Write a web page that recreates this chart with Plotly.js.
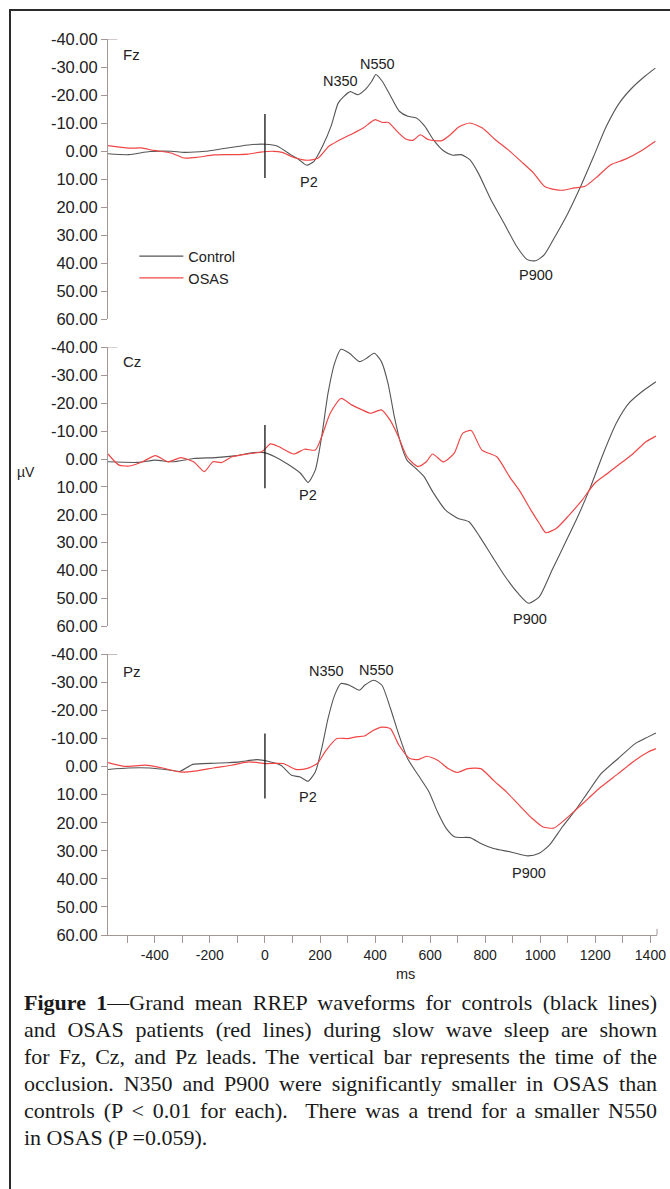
<!DOCTYPE html>
<html><head><meta charset="utf-8">
<script src="https://cdn.plot.ly/plotly-3.0.1.min.js"></script>
<style>
html,body{margin:0;padding:0;background:#fff;}
#wrap{position:relative;width:670px;height:1189px;overflow:hidden;background:#fff;}
#chart{position:absolute;left:0;top:0;width:670px;height:1189px;}
#frame{position:absolute;left:9px;top:9px;width:700px;height:1220px;border:2px solid #2b2b2b;box-sizing:border-box;pointer-events:none;}
#caption{position:absolute;left:24px;top:989px;width:633px;font-family:"Liberation Serif","Times New Roman",serif;font-size:22px;line-height:27px;color:#1a1a1a;}
#caption div{text-align:justify;text-align-last:justify;white-space:normal;}
#caption div.last{text-align:left;text-align-last:left;}
</style></head>
<body><div id="wrap"><div id="chart"></div><div id="frame"></div>
<div id="caption">
<div><b>Figure 1</b>—Grand mean RREP waveforms for controls (black lines)</div>
<div>and OSAS patients (red lines) during slow wave sleep are shown</div>
<div>for Fz, Cz, and Pz leads. The vertical bar represents the time of the</div>
<div>occlusion. N350 and P900 were significantly smaller in OSAS than</div>
<div>controls (P &lt; 0.01 for each).&nbsp; There was a trend for a smaller N550</div>
<div class="last">in OSAS (P =0.059).</div>
</div></div>
<script>
// ---- data (ms, µV) ----
var fzControlT = [-570,-495,-418,-340,-294,-217,-155,-93,-46,0,46,93,124,152,178,209,240,266,287,310,338,364,388,403,426,457,488,519,550,581,612,651,682,713,744,775,821,868,914,953,984,1015,1054,1101,1147,1194,1240,1287,1333,1380,1418];
var fzControl  = [1.0,1.3,0.2,0.1,0.5,0.1,-0.8,-1.7,-2.3,-2.4,-1.7,1.3,3.1,5.1,3.7,-1.7,-8.8,-17.1,-19.5,-21.2,-20.1,-21.9,-24.9,-27.3,-24.9,-19.5,-14.2,-12.4,-11.8,-8.8,-4.0,0.1,1.5,1.3,3.1,7.9,17.4,25.7,34.0,38.8,39.2,37.0,30.5,22.1,12.6,1.9,-8.8,-17.1,-22.5,-26.7,-29.6];
var fzOsasT = [-570,-495,-449,-403,-341,-294,-248,-186,-124,-62,-16,31,62,108,155,194,232,263,310,357,400,426,449,480,511,538,564,595,642,673,704,744,790,837,883,930,976,1015,1054,1085,1124,1163,1209,1256,1310,1364,1418];
var fzOsas  = [-1.9,-1.0,-1.1,-0.2,0.7,2.5,2.3,1.4,1.3,1.1,0.4,0.1,0.5,2.4,3.3,2.5,-1.7,-3.5,-5.8,-8.2,-11.2,-10.2,-10.2,-7.0,-4.3,-3.8,-5.8,-4.0,-3.7,-5.8,-8.6,-10.0,-8.2,-4.0,-0.5,3.7,7.9,12.6,13.8,14.0,13.2,12.6,9.0,4.9,2.9,0.1,-3.5];

var czControlT = [-570,-460,-398,-336,-259,-181,-104,-42,-3,36,82,129,157,183,206,229,253,276,307,343,369,397,423,447,470,493,516,547,578,609,656,702,741,780,826,873,919,958,997,1043,1090,1136,1183,1229,1276,1322,1369,1420];
var czControl  = [1.0,1.2,0.4,1.0,-0.2,-0.5,-1.2,-2.3,-2.3,-0.8,1.8,5.1,8.4,3.9,-8.0,-23.5,-34.3,-39.3,-37.9,-34.9,-36.1,-37.9,-34.9,-27.1,-15.2,-5.6,0.4,3.3,6.3,11.7,18.3,21.3,22.5,27.8,35.0,42.2,48.1,51.7,49.3,39.8,30.2,20.7,9.9,-2.0,-12.8,-20.0,-24.1,-27.7];
var czOsasT = [-570,-530,-491,-445,-398,-352,-305,-259,-220,-189,-158,-119,-65,-11,20,51,105,144,183,206,237,276,315,353,384,423,454,485,516,555,586,609,648,687,718,749,788,842,888,927,966,997,1020,1059,1105,1152,1198,1245,1299,1338,1384,1420];
var czOsas  = [-1.8,2.2,2.5,1.0,-1.2,1.0,-0.5,1.0,4.5,1.0,1.3,-0.8,-1.8,-2.6,-5.4,-4.4,-1.8,-3.5,-3.2,-8.0,-16.4,-21.7,-19.4,-17.6,-16.4,-17.6,-14.0,-8.0,-0.8,2.7,1.0,-1.8,1.0,-2.0,-9.2,-10.2,-3.2,-0.8,6.3,11.7,18.3,23.1,26.4,24.8,20.1,14.7,8.7,5.1,1.0,-2.0,-6.2,-8.2];

var pzControlT = [-570,-496,-418,-340,-309,-262,-184,-137,-91,-28,11,58,97,128,156,183,206,229,253,276,307,343,362,396,425,456,487,518,557,596,627,659,690,745,784,830,893,955,994,1033,1080,1127,1174,1221,1283,1345,1392,1420];
var pzControl  = [1.0,0.5,0.5,1.3,1.7,-0.8,-1.2,-1.4,-1.7,-2.5,-1.9,-0.5,3.1,3.7,5.2,1.9,-6.4,-17.1,-25.4,-29.6,-29.0,-27.2,-29.0,-30.8,-29.0,-20.7,-11.2,-2.9,3.1,9.0,16.2,22.1,25.1,25.3,27.4,29.2,30.4,31.8,31.0,28.0,21.5,15.6,9.0,2.5,-2.9,-8.2,-10.6,-12.0];
var pzOsasT = [-570,-512,-434,-371,-309,-247,-184,-122,-59,3,66,112,151,190,222,261,300,331,362,393,425,456,487,526,557,588,627,666,698,737,784,830,877,924,971,1010,1049,1080,1127,1174,1221,1283,1345,1392,1420];
var pzOsas  = [-1.4,-0.1,-0.5,0.5,1.9,1.5,0.4,-0.5,-1.7,-1.1,-1.1,1.0,0.7,-1.1,-5.8,-10.0,-10.0,-10.6,-10.9,-12.9,-14.1,-13.5,-7.6,-2.9,-2.5,-3.7,-2.3,0.7,2.1,0.7,0.7,4.9,9.0,13.8,18.5,21.5,21.9,19.7,15.6,11.4,7.2,2.5,-2.3,-5.2,-6.4];

var leads = ["Fz","Cz","Pz"];
var seriesNames = ["Control","OSAS"];
var yTickVals = [-40,-30,-20,-10,0,10,20,30,40,50,60];
var yTickText = ["-40.00","-30.00","-20.00","-10.00","0.00","10.00","20.00","30.00","40.00","50.00","60.00"];
var xTickVals = [-400,-200,0,200,400,600,800,1000,1200,1400];
var xTickText = ["-400","-200","0","200","400","600","800","1000","1200","1400"];
var xMinorVals = [-500,-300,-100,100,300,500,700,900,1100,1300];
// occlusion bar extent per lead (µV)
var barTop = [-13.2,-12.2,-11.8];
var barBottom = [9.6,10.5,11.4];
// component labels per lead: [text, ms, µV]
var peakLabelsFz = [["N350",274,-25.1],["N550",410,-31.2],["P2",161,11.2],["P900",986,44.4]];
var peakLabelsCz = [["N350",242,-44.1],["N550",431,-42.7],["P2",155,12.9],["P900",963,57.3]];
var peakLabelsPz = [["N350",225,-34.0],["N550",404,-34.6],["P2",158,10.8],["P900",958,37.8]];

var CTRL = "#555555", OSAS = "#f04646", AXC = "#a59696", TXT = "#222";
var FONT = "Liberation Sans, Arial, sans-serif";

var data = [];
var sets = [[fzControlT,fzControl,fzOsasT,fzOsas],[czControlT,czControl,czOsasT,czOsas],[pzControlT,pzControl,pzOsasT,pzOsas]];
var yRefs = ["y","y2","y3"];
sets.forEach(function(s,i){
  data.push({x:s[0],y:s[1],xaxis:"x",yaxis:yRefs[i],type:"scatter",mode:"lines",name:seriesNames[0],
    line:{color:CTRL,width:1.1,shape:"spline",smoothing:0.6},showlegend:i===0,legendrank:1});
  data.push({x:s[2],y:s[3],xaxis:"x",yaxis:yRefs[i],type:"scatter",mode:"lines",name:seriesNames[1],
    line:{color:OSAS,width:1.2,shape:"spline",smoothing:0.6},showlegend:i===0,legendrank:2});
});

var doms = [[0.6875,1],[0.3444,0.6558],[0,0.3132]];
function yax(i){
  return {domain:doms[i],anchor:"x",range:[60,-40],tickmode:"array",tickvals:yTickVals,ticktext:yTickText,
    ticks:"outside",ticklen:6,tickcolor:AXC,tickwidth:1,showline:true,linecolor:AXC,linewidth:1,
    showgrid:false,zeroline:false,tickfont:{family:FONT,size:16.5,color:TXT}};
}

var shapes = [], annotations = [];
var labelSets = [peakLabelsFz,peakLabelsCz,peakLabelsPz];
yRefs.forEach(function(yr,i){
  shapes.push({type:"line",xref:"x",yref:yr,x0:0,x1:0,y0:barTop[i],y1:barBottom[i],line:{color:"#111",width:1.3}});
  shapes.push({type:"line",xref:"x domain",yref:yr,x0:0,x1:0.017,y0:-40,y1:-40,line:{color:AXC,width:1}});
  labelSets[i].forEach(function(l){
    annotations.push({xref:"x",yref:yr,x:l[1],y:l[2],text:l[0],showarrow:false,xanchor:"center",yanchor:"middle",
      font:{family:FONT,size:14.5,color:TXT}});
  });
});
shapes.push({type:"line",xref:"x domain",yref:"y3 domain",x0:1,x1:1,y0:0,y1:0.022,line:{color:AXC,width:1}});

var leadY = [0.944,0.95,0.939];
leads.forEach(function(ld,i){
  annotations.push({xref:"x domain",yref:yRefs[i]+" domain",x:0.043,y:leadY[i],text:ld,showarrow:false,
    xanchor:"center",yanchor:"middle",font:{family:FONT,size:15,color:TXT}});
});
annotations.push({xref:"paper",yref:"paper",x:-0.149,y:0.517,text:"µV",showarrow:false,xanchor:"center",yanchor:"middle",
  font:{family:FONT,size:14,color:TXT}});
annotations.push({xref:"paper",yref:"paper",x:0.541,y:-0.044,text:"ms",showarrow:false,xanchor:"center",yanchor:"middle",
  font:{family:FONT,size:14.5,color:TXT}});

var layout = {
  width:670,height:1189,margin:{l:108,r:13,t:39.3,b:253.7},
  paper_bgcolor:"#fff",plot_bgcolor:"#fff",
  xaxis:{anchor:"y3",range:[-570,1424],tickmode:"array",tickvals:xTickVals,ticktext:xTickText,
    ticks:"outside",ticklen:7,tickcolor:AXC,tickwidth:1,showline:true,linecolor:AXC,linewidth:1,
    showgrid:false,zeroline:false,tickfont:{family:FONT,size:14,color:TXT},
    minor:{tickmode:"array",tickvals:xMinorVals,ticks:"outside",ticklen:7,tickcolor:AXC,tickwidth:1,showgrid:false}},
  yaxis:yax(0),yaxis2:yax(1),yaxis3:yax(2),
  showlegend:true,
  legend:{x:0.048,y:0.7755,xanchor:"left",yanchor:"top",bgcolor:"rgba(0,0,0,0)",font:{family:FONT,size:14.5,color:TXT},
    tracegroupgap:0,itemwidth:44},
  shapes:shapes,annotations:annotations
};
Plotly.newPlot("chart",data,layout,{staticPlot:true,displayModeBar:false});
</script></body></html>
